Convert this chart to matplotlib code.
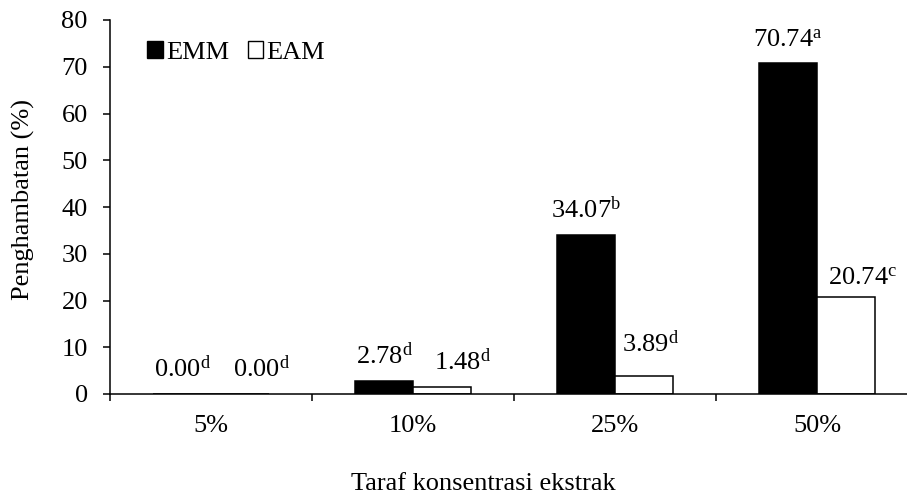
import matplotlib
matplotlib.use("Agg")
import matplotlib.pyplot as plt
import numpy as np
from matplotlib.patches import Patch

plt.rcParams['font.family'] = ['Liberation Serif', 'DejaVu Serif']
plt.rcParams['mathtext.fontset'] = 'custom'
plt.rcParams['mathtext.rm'] = 'Liberation Serif'
plt.rcParams['mathtext.it'] = 'Liberation Serif:italic'

categories = ['5%', '10%', '25%', '50%']
emm = [0.00, 2.78, 34.07, 70.74]
eam = [0.00, 1.48, 3.89, 20.74]
emm_letters = ['d', 'd', 'b', 'a']
eam_letters = ['d', 'd', 'd', 'c']

# label placement (pixel offsets from bar top centre), as in the original layout
emm_offsets = [(0, 17), (0, 17), (0, 17), (0, 17)]
eam_offsets = [(22, 17), (21, 17), (7, 24), (17, 12)]

FS = 19
DPI = 100
fig = plt.figure(figsize=(9.07, 4.99), dpi=DPI)
ax = fig.add_axes([110/907, 1-394/499, 808/907, 374/499])

x = np.arange(len(categories))
w = 0.285
ax.bar(x - w/2, emm, w, color='black', edgecolor='black', linewidth=1.1, label='EMM')
ax.bar(x + w/2, eam, w, color='white', edgecolor='black', linewidth=1.1, label='EAM')

px = 72 / DPI
for xs, vals, lets, offs in ((x - w/2, emm, emm_letters, emm_offsets),
                             (x + w/2, eam, eam_letters, eam_offsets)):
    for xi, v, l, (dx, dy) in zip(xs, vals, lets, offs):
        ax.annotate(f'{v:.2f}' + r'$^{\mathrm{' + l + '}}$', (xi, v), xytext=(dx*px, dy*px),
                    textcoords='offset points', ha='center', va='baseline', fontsize=FS)

ax.set_xlim(-0.5, 3.5)
ax.set_ylim(0, 80)
ax.set_yticks(range(0, 81, 10))
ax.set_xticks(np.arange(-0.5, 3.6, 1.0))
ax.set_xticklabels([])
ax.set_xticks(x, minor=True)
ax.set_xticklabels(categories, minor=True)
ax.tick_params(axis='x', which='minor', length=0, pad=15, labelsize=FS)
ax.tick_params(axis='x', which='major', length=5, width=1.1, direction='out')
ax.tick_params(axis='y', length=5, width=1.1, direction='out', labelsize=FS, pad=11)
for s in ['top', 'right']:
    ax.spines[s].set_visible(False)
for s in ['left', 'bottom']:
    ax.spines[s].set_linewidth(1.1)

fig.text(23/907, 1-200/499, 'Penghambatan (%)', rotation=90, ha='center', va='center', fontsize=FS)
fig.text(483/907, 1-484/499, 'Taraf konsentrasi ekstrak', ha='center', va='center', fontsize=FS)

handles = [Patch(facecolor='black', edgecolor='black', label='EMM'),
           Patch(facecolor='white', edgecolor='black', label='EAM')]
leg = ax.legend(handles=handles, loc='upper left', bbox_to_anchor=(37/808, 0.943), frameon=False,
                fontsize=FS, ncol=2, handlelength=0.6, handleheight=0.6, handletextpad=0.12,
                columnspacing=0.7, borderaxespad=0, borderpad=0)

fig.savefig('out.png', dpi=DPI)
